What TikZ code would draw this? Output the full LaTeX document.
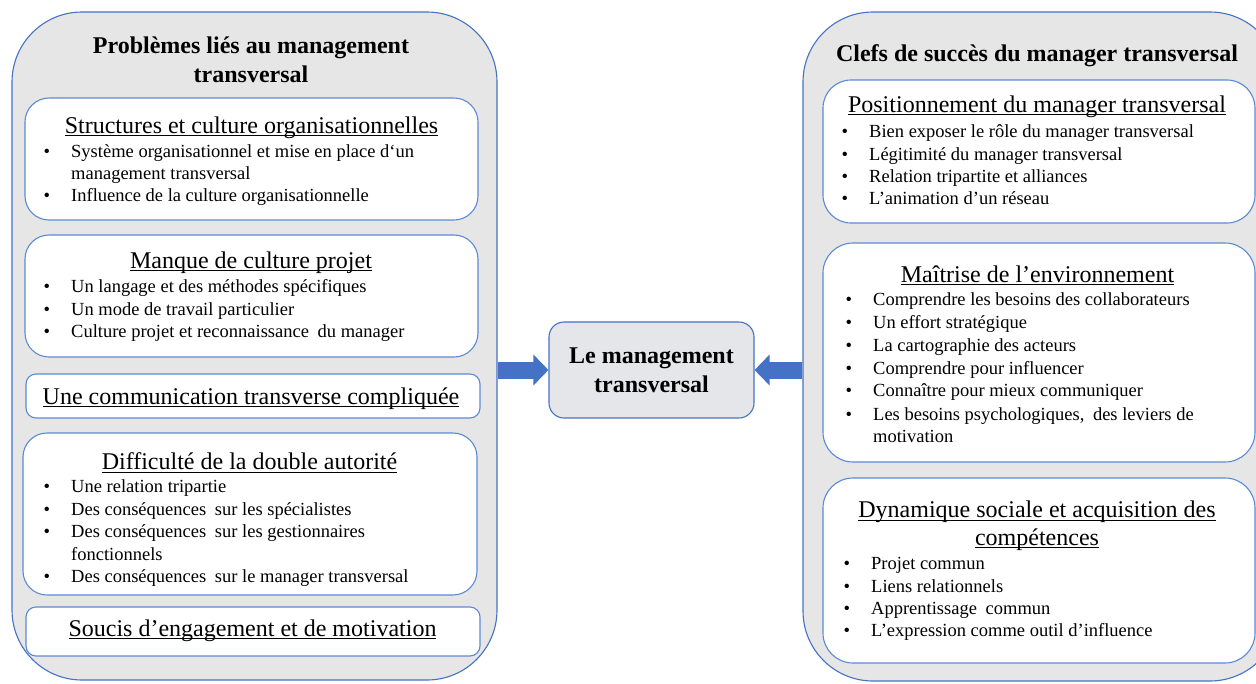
\documentclass[tikz,border=0pt]{standalone}
\usepackage{fontspec}
\setmainfont{Liberation Serif}
\usetikzlibrary{arrows.meta}

\definecolor{frameblue}{HTML}{4472C4}
\definecolor{cardblue}{HTML}{5B8AD4}
\definecolor{panelgrey}{HTML}{E6E6E6}
\definecolor{hubgrey}{HTML}{E5E6EA}

% underline drawn at a fixed depth below the baseline
\newcommand\ulx[1]{\setbox0\hbox{#1}\rlap{\rule[-3pt]{\wd0}{1pt}}\box0}
% bullet hung to the left of an entry
\newcommand\bul{\llap{•\hspace{21pt}}}

\tikzset{
  panel/.style={draw=frameblue, line width=1.1pt, fill=panelgrey,
                rounded corners=70pt, inner sep=0pt},
  card/.style={draw=cardblue, line width=1.1pt, fill=white,
               rounded corners=#1, inner sep=0pt},
  card/.default=24pt,
  hub/.style={draw=frameblue, line width=1.1pt, fill=hubgrey,
              rounded corners=15pt, inner sep=0pt},
  heading/.style={anchor=base, inner sep=0pt,
                  font=\fontsize{24}{28}\selectfont\bfseries},
  subhead/.style={anchor=base, inner sep=0pt,
                  font=\fontsize{24}{28}\selectfont},
  entry/.style={anchor=base west, inner sep=0pt,
                font=\fontsize{18.5}{22}\selectfont},
  link/.style={draw=frameblue, line width=17pt,
               -{Triangle[width=30pt,length=15pt]}}
}

\begin{document}
\begin{tikzpicture}[x=1pt, y=-1pt]
\useasboundingbox (0,0) rectangle (1256,683);
\clip (0,0) rectangle (1256,683);

% ---------- left panel: problems ----------
\node[panel, minimum width=485pt, minimum height=668pt] (L) at (254.5,346) {};
\node[heading] (Lt1) at (251,53) {Problèmes liés au management};
\node[heading] (Lt2) at (251,82) {transversal};

\node[card, minimum width=453pt, minimum height=122pt] (L1) at (251.5,159) {};
\node[subhead] (L1h) at (251.5,133) {\ulx{Structures et culture organisationnelles}};
\node[entry] (L1a) at (71,157) {\bul Système organisationnel et mise en place d‘un};
\node[entry] (L1b) at (71,179) {management transversal};
\node[entry] (L1c) at (71,201.5) {\bul Influence de la culture organisationnelle};

\node[card, minimum width=453pt, minimum height=122pt] (L2) at (251.5,296) {};
\node[subhead] (L2h) at (251,268) {\ulx{Manque de culture projet}};
\node[entry] (L2a) at (71,292.5) {\bul Un langage et des méthodes spécifiques};
\node[entry] (L2b) at (71,315) {\bul Un mode de travail particulier};
\node[entry] (L2c) at (71,337.5) {\bul Culture projet et reconnaissance\hspace{4pt} du manager};

\node[card=10pt, minimum width=454pt, minimum height=44pt] (L3) at (253,396) {};
\node[subhead] (L3h) at (251,404) {\ulx{Une communication transverse compliquée}};

\node[card, minimum width=454pt, minimum height=162pt] (L4) at (250,514) {};
\node[subhead] (L4h) at (249.5,469.5) {\ulx{Difficulté de la double autorité}};
\node[entry] (L4a) at (71,492.5) {\bul Une relation tripartie};
\node[entry] (L4b) at (71,515) {\bul Des conséquences\hspace{4pt} sur les spécialistes};
\node[entry] (L4c) at (71,537.5) {\bul Des conséquences\hspace{4pt} sur les gestionnaires};
\node[entry] (L4d) at (71,560) {fonctionnels};
\node[entry] (L4e) at (71,582.5) {\bul Des conséquences\hspace{4pt} sur le manager transversal};

\node[card=10pt, minimum width=454pt, minimum height=49pt] (L5) at (253,631.5) {};
\node[subhead] (L5h) at (252.5,636) {\ulx{Soucis d’engagement et de motivation}};

% ---------- right panel: keys to success ----------
\node[panel, minimum width=477pt, minimum height=669pt] (R) at (1041.5,346.5) {};
\node[heading] (Rt) at (1037,61) {Clefs de succès du manager transversal};

\node[card=28pt, minimum width=432pt, minimum height=143pt] (R1) at (1039,151.5) {};
\node[subhead] (R1h) at (1037,112) {\ulx{Positionnement du manager transversal}};
\node[entry] (R1a) at (869,137) {\bul Bien exposer le rôle du manager transversal};
\node[entry] (R1b) at (869,160) {\bul Légitimité du manager transversal};
\node[entry] (R1c) at (869,182.5) {\bul Relation tripartite et alliances};
\node[entry] (R1d) at (869,204.5) {\bul L’animation d’un réseau};

\node[card=30pt, minimum width=432pt, minimum height=219pt] (R2) at (1039,352.5) {};
\node[subhead] (R2h) at (1037.5,282) {\ulx{Maîtrise de l’environnement}};
\node[entry] (R2a) at (873,305) {\bul Comprendre les besoins des collaborateurs};
\node[entry] (R2b) at (873,328) {\bul Un effort stratégique};
\node[entry] (R2c) at (873,351) {\bul La cartographie des acteurs};
\node[entry] (R2d) at (873,374) {\bul Comprendre pour influencer};
\node[entry] (R2e) at (873,396.5) {\bul Connaître pour mieux communiquer};
\node[entry] (R2f) at (873,420) {\bul Les besoins psychologiques,\hspace{4pt} des leviers de};
\node[entry] (R2g) at (873,442) {motivation};

\node[card=30pt, minimum width=432pt, minimum height=185pt] (R3) at (1039,570.5) {};
\node[subhead] (R3h1) at (1037,517.5) {\ulx{Dynamique sociale et acquisition des}};
\node[subhead] (R3h2) at (1037,545) {\ulx{compétences}};
\node[entry] (R3a) at (871,569.5) {\bul Projet commun};
\node[entry] (R3b) at (871,592) {\bul Liens relationnels};
\node[entry] (R3c) at (871,614) {\bul Apprentissage\hspace{4pt} commun};
\node[entry] (R3d) at (871,636.5) {\bul L’expression comme outil d’influence};

% ---------- central hub ----------
\node[hub, minimum width=205pt, minimum height=96pt] (C) at (651.5,370) {};
\node[heading] (Ct1) at (651.5,363) {Le management};
\node[heading] (Ct2) at (651.5,392) {transversal};

% ---------- arrows into the hub ----------
\draw[link] (L.east |- C.west) -- (C.west);
\draw[link] (R.west |- C.east) -- (C.east);
\end{tikzpicture}
\end{document}
